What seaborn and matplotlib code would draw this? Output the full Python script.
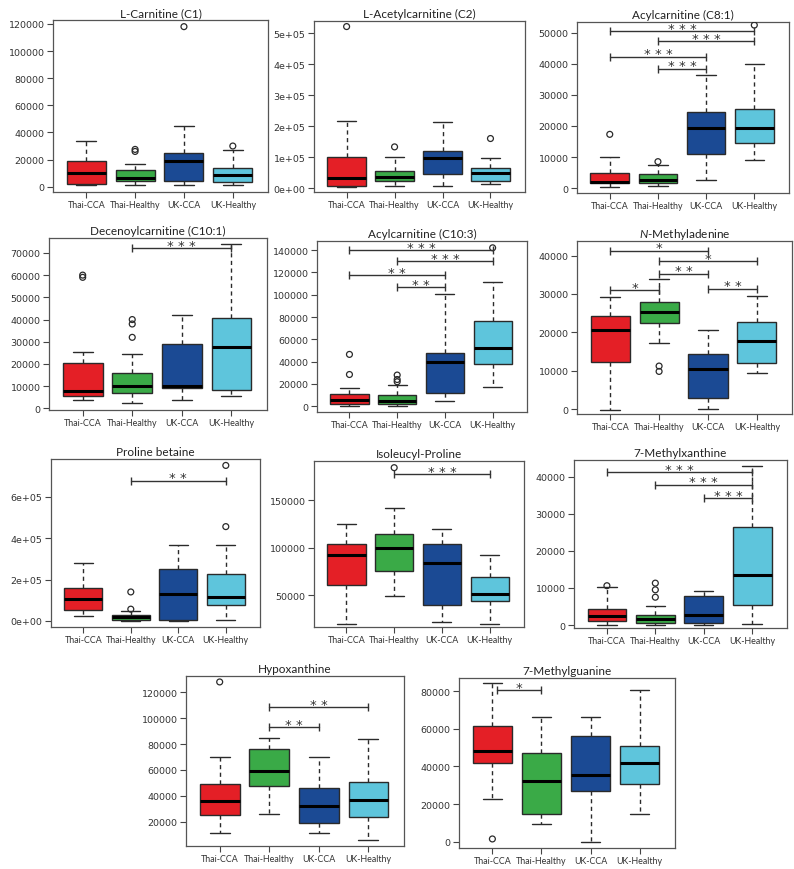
import numpy as np
import pandas as pd
import matplotlib
matplotlib.use("Agg")
import matplotlib.pyplot as plt
from matplotlib.ticker import FuncFormatter
import seaborn as sns

groups = ["Thai-CCA", "Thai-Healthy", "UK-CCA", "UK-Healthy"]
palette = ["#e41f26", "#3aaa47", "#1b4a94", "#5ec5dc"]

# box summaries per group: (lower whisker, Q1, median, Q3, upper whisker)
c1_box = [(1000, 2000, 10000, 19000, 33500), (1500, 4500, 6500, 12000, 17000),
          (1500, 4000, 19000, 25000, 44500), (1500, 3500, 8500, 13500, 27000)]
c1_out = [[], [26000, 27500], [118000], [30000]]
c1_sig = []

c2_box = [(3000, 8000, 32000, 100000, 217000), (5000, 22000, 35000, 55000, 100000),
          (5000, 45000, 98000, 120000, 214000), (13000, 22000, 48000, 65000, 97000)]
c2_out = [[522000], [133000], [], [160000]]
c2_sig = []

c81_box = [(300, 1500, 2000, 5000, 10000), (700, 1500, 2500, 4500, 7500),
           (2500, 11000, 19500, 24500, 36500), (9000, 14500, 19500, 25500, 40000)]
c81_out = [[17300], [8500], [], [52500]]
c81_sig = [(0, 3, 50500, "***"), (1, 3, 47300, "***"), (0, 2, 42300, "***"), (1, 2, 38400, "***")]

c101_box = [(4000, 5500, 8000, 20500, 25500), (2500, 7000, 10000, 16000, 24500),
            (4000, 9000, 10000, 29000, 42000), (5500, 8500, 27500, 40500, 74000)]
c101_out = [[59000, 60000], [32000, 38000, 40000], [], []]
c101_sig = [(1, 3, 72000, "***")]

c103_box = [(500, 2000, 6000, 11000, 16500), (500, 2000, 5000, 10000, 19000),
            (5000, 12000, 40000, 48000, 101000), (17000, 37500, 52000, 76000, 111000)]
c103_out = [[28500, 46500], [22000, 24000, 28000], [], [142000]]
c103_sig = [(0, 3, 140000, "***"), (1, 3, 130000, "***"), (0, 2, 117500, "**"), (1, 2, 106500, "**")]

nma_box = [(-300, 12200, 20500, 24200, 29200), (17200, 22300, 25200, 27800, 34000),
           (0, 3000, 10500, 14300, 20500), (9500, 12000, 17700, 22700, 29500)]
nma_out = [[], [9800, 11200], [], []]
nma_sig = [(0, 2, 41200, "*"), (1, 3, 38500, "*"), (1, 2, 35300, "**"),
           (0, 1, 30900, "*"), (2, 3, 31300, "**")]

pb_box = [(25000, 55000, 105000, 160000, 280000), (0, 5000, 18000, 30000, 50000),
          (0, 5000, 130000, 250000, 365000), (5000, 75000, 115000, 225000, 365000)]
pb_out = [[], [57000, 140000], [], [455000, 750000]]
pb_sig = [(1, 3, 675000, "**")]

ilp_box = [(20000, 61000, 92000, 104000, 125000), (49000, 76000, 100000, 114000, 142000),
           (22000, 40000, 84000, 104000, 120000), (20000, 44000, 51000, 69000, 92000)]
ilp_out = [[], [184000], [], []]
ilp_sig = [(1, 3, 177000, "***")]

mx_box = [(0, 1000, 2500, 4200, 10200), (0, 500, 1500, 2800, 5000),
          (0, 500, 2800, 7800, 9200), (400, 5300, 13600, 26300, 43000)]
mx_out = [[10600], [7500, 9500, 11300], [], []]
mx_sig = [(0, 3, 41200, "***"), (1, 3, 37800, "***"), (2, 3, 34200, "***")]

hx_box = [(11500, 25000, 36000, 49000, 70000), (26000, 47500, 59000, 76000, 85000),
          (11000, 19000, 32000, 46000, 70000), (6000, 23500, 36500, 51000, 84000)]
hx_out = [[128000], [], [], []]
hx_sig = [(1, 3, 108500, "**"), (1, 2, 93000, "**")]

mg_box = [(22500, 42000, 48000, 61500, 84000), (9500, 15000, 32000, 47000, 66000),
          (0, 27000, 35500, 56000, 66000), (15000, 30500, 42000, 51000, 80500)]
mg_out = [[1500], [], [], []]
mg_sig = [(0.1, 1, 80500, "*")]

panels = [
    ("L-Carnitine (C1)", c1_box, c1_out, c1_sig, (53, 21, 268, 193), (-3900, 122900), np.arange(0, 120001, 20000), False),
    ("L-Acetylcarnitine (C2)", c2_box, c2_out, c2_sig, (314, 22, 525, 193), (-12900, 540000), np.arange(0, 500001, 100000), True),
    ("Acylcarnitine (C8:1)", c81_box, c81_out, c81_sig, (577, 23, 789, 194), (-1600, 53500), np.arange(0, 50001, 10000), False),
    ("Decenoylcarnitine (C10:1)", c101_box, c101_out, c101_sig, (49, 239, 267, 411), (-700, 76700), np.arange(0, 70001, 10000), False),
    ("Acylcarnitine (C10:3)", c103_box, c103_out, c103_sig, (317, 242, 527, 413), (-5100, 148100), np.arange(0, 140001, 20000), False),
    (r"$\mathit{N}$-Methyladenine", nma_box, nma_out, nma_sig, (577, 242, 792, 415), (-1300, 43800), np.arange(0, 40001, 10000), False),
    ("Proline betaine", pb_box, pb_out, pb_sig, (51, 460, 260, 628), (-29000, 781000), np.arange(0, 600001, 200000), True),
    ("Isoleucyl-Proline", ilp_box, ilp_out, ilp_sig, (314, 462, 524, 628), (16800, 191000), np.arange(50000, 150001, 50000), False),
    ("7-Methylxanthine", mx_box, mx_out, mx_sig, (574, 461, 787, 629), (-800, 44500), np.arange(0, 40001, 10000), False),
    ("Hypoxanthine", hx_box, hx_out, hx_sig, (186, 677, 404, 847), (1200, 132600), np.arange(20000, 120001, 20000), False),
    ("7-Methylguanine", mg_box, mg_out, mg_sig, (459, 679, 675, 849), (-3300, 86900), np.arange(0, 80001, 20000), False),
]

sns.set_style("ticks")
plt.rcParams["font.family"] = ["Lato", "DejaVu Sans"]
plt.rcParams["mathtext.fontset"] = "custom"
plt.rcParams["mathtext.rm"] = "Lato"
plt.rcParams["mathtext.it"] = "Lato:italic"

W, H = 794, 870
fig = plt.figure(figsize=(W / 100, H / 100), dpi=100)
line_col = "#2a2a2a"

for title, box, out, sig, (l, t, r, b), ylim, yticks, sci in panels:
    ax = fig.add_axes([l / W, 1 - b / H, (r - l) / W, (b - t) / H])

    # rebuild a small sample that gives exactly the read-off box summary
    rows = []
    for g, (lo, q1, med, q3, hi) in zip(groups, box):
        for v in (lo, q1, q1, med, q3, q3, hi):
            rows.append((g, v))
    df = pd.DataFrame(rows, columns=["group", "value"])

    sns.boxplot(data=df, x="group", y="value", hue="group", order=groups,
                hue_order=groups, palette=palette, legend=False, saturation=1,
                whis=(0, 100), showfliers=False, width=0.8, linewidth=1,
                linecolor=line_col,
                whiskerprops=dict(linestyle=(0, (3, 2.5))),
                medianprops=dict(color="black", linewidth=2.2),
                ax=ax)

    for i, vals in enumerate(out):
        if vals:
            ax.scatter([i] * len(vals), vals, s=18, facecolors="none",
                       edgecolors=line_col, linewidths=0.9, zorder=5)

    for i, j, y, lab in sig:
        ax.plot([i, j], [y, y], color="#333333", lw=1, marker="|",
                markersize=6, markeredgewidth=1, zorder=6)
        ax.annotate(" ".join(lab), ((i + j) / 2, y), xytext=(0, -2.5),
                    textcoords="offset points", ha="center", va="bottom",
                    fontsize=9.5, family="DejaVu Sans", color="#333333")

    ax.set_xlim(-0.68, 3.72)
    ax.set_ylim(*ylim)
    ax.set_yticks(yticks)
    if sci:
        ax.yaxis.set_major_formatter(FuncFormatter(lambda v, p: f"{v:.0e}"))
    else:
        ax.yaxis.set_major_formatter(FuncFormatter(lambda v, p: f"{int(v)}"))
    ax.set_xlabel("")
    ax.set_ylabel("")
    ax.tick_params(axis="both", length=4, width=0.8, color="#444444",
                   labelcolor="#333333", pad=2)
    ax.tick_params(axis="x", labelsize=6.4)
    ax.tick_params(axis="y", labelsize=6.8)
    for lab in ax.get_yticklabels():
        lab.set_family("DejaVu Sans")
    for s in ax.spines.values():
        s.set_visible(True)
        s.set_color("#555555")
        s.set_linewidth(0.9)
    ax.set_title(title, fontsize=8.5, family="Lato", color="#222222", pad=3)

fig.savefig("out.png", dpi=100)
